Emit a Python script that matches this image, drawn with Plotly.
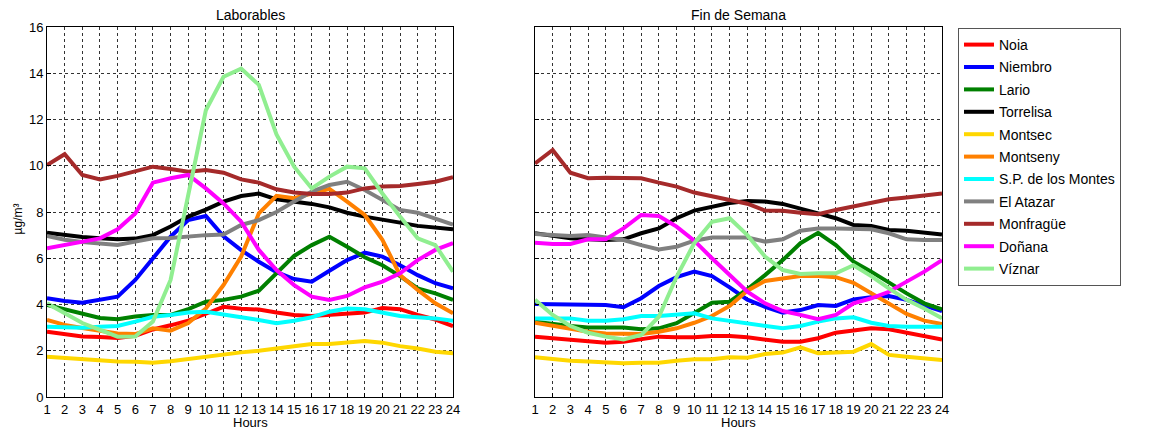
import plotly.graph_objects as go

hours = list(range(1, 25))
stations = ["Noia", "Niembro", "Lario", "Torrelisa", "Montsec", "Montseny",
            "S.P. de los Montes", "El Atazar", "Monfragüe", "Doñana", "Víznar"]
colors = ["#FF0000", "#0000FF", "#008000", "#000000", "#FFD700", "#FF8000",
          "#00FFFF", "#808080", "#A52A2A", "#FF00FF", "#90EE90"]

# Laborables (weekdays)
lab_noia = [2.82, 2.7, 2.62, 2.6, 2.55, 2.65, 2.92, 3.1, 3.3, 3.6, 3.9, 3.82, 3.78, 3.65, 3.55, 3.5, 3.55, 3.62, 3.65, 3.85, 3.8, 3.55, 3.35, 3.07]
lab_niembro = [4.27, 4.15, 4.08, 4.2, 4.34, 5.06, 6.0, 6.93, 7.65, 7.83, 6.95, 6.35, 5.85, 5.4, 5.1, 4.99, 5.46, 5.92, 6.24, 6.07, 5.7, 5.27, 4.92, 4.7]
lab_lario = [3.98, 3.78, 3.58, 3.42, 3.36, 3.48, 3.55, 3.55, 3.8, 4.12, 4.2, 4.34, 4.6, 5.35, 6.1, 6.57, 6.93, 6.5, 6.04, 5.7, 5.23, 4.7, 4.48, 4.2]
lab_torrelisa = [7.1, 7.0, 6.92, 6.86, 6.82, 6.85, 7.0, 7.37, 7.8, 8.1, 8.45, 8.69, 8.8, 8.55, 8.45, 8.35, 8.2, 7.97, 7.8, 7.65, 7.54, 7.4, 7.32, 7.25]
lab_montsec = [1.74, 1.68, 1.62, 1.57, 1.53, 1.52, 1.48, 1.55, 1.65, 1.74, 1.86, 1.93, 2.0, 2.1, 2.22, 2.29, 2.29, 2.35, 2.42, 2.35, 2.2, 2.1, 1.96, 1.89]
lab_montseny = [3.33, 3.12, 2.98, 2.85, 2.75, 2.72, 2.97, 2.87, 3.2, 3.83, 4.84, 6.07, 7.94, 8.7, 8.6, 8.8, 9.0, 8.45, 7.87, 6.8, 5.27, 4.63, 4.05, 3.62]
lab_spmontes = [3.04, 3.0, 3.0, 3.04, 3.07, 3.26, 3.47, 3.55, 3.65, 3.69, 3.55, 3.45, 3.33, 3.19, 3.3, 3.45, 3.69, 3.83, 3.79, 3.65, 3.5, 3.45, 3.4, 3.3]
lab_atazar = [6.96, 6.8, 6.7, 6.62, 6.57, 6.72, 6.86, 6.88, 6.95, 7.0, 7.03, 7.44, 7.65, 8.0, 8.45, 8.88, 9.17, 9.31, 8.95, 8.52, 8.09, 7.97, 7.7, 7.45]
lab_monfrague = [10.03, 10.5, 9.6, 9.41, 9.56, 9.74, 9.96, 9.86, 9.74, 9.82, 9.7, 9.41, 9.27, 8.98, 8.84, 8.78, 8.78, 8.84, 9.02, 9.1, 9.12, 9.21, 9.31, 9.5]
lab_donana = [6.43, 6.57, 6.72, 6.86, 7.25, 7.94, 9.27, 9.46, 9.6, 9.02, 8.37, 7.58, 6.36, 5.49, 4.84, 4.34, 4.2, 4.37, 4.74, 4.99, 5.35, 5.92, 6.36, 6.65]
lab_viznar = [4.05, 3.6, 3.2, 2.9, 2.61, 2.62, 3.26, 5.06, 8.65, 12.4, 13.85, 14.2, 13.5, 11.35, 9.96, 9.02, 9.53, 9.96, 9.89, 8.8, 7.8, 6.86, 6.57, 5.42]

# Fin de Semana (weekend)
fds_noia = [2.61, 2.54, 2.46, 2.39, 2.35, 2.39, 2.49, 2.61, 2.58, 2.58, 2.64, 2.64, 2.58, 2.49, 2.39, 2.39, 2.54, 2.78, 2.87, 2.97, 2.93, 2.78, 2.61, 2.49]
fds_niembro = [4.02, 4.02, 4.02, 3.98, 3.98, 3.88, 4.27, 4.8, 5.18, 5.42, 5.23, 4.74, 4.21, 3.9, 3.65, 3.76, 3.98, 3.94, 4.22, 4.31, 4.37, 4.2, 3.94, 3.72]
fds_lario = [3.26, 3.16, 3.07, 3.01, 3.01, 3.01, 2.93, 2.97, 3.19, 3.65, 4.08, 4.12, 4.66, 5.27, 5.92, 6.65, 7.1, 6.57, 5.85, 5.42, 4.94, 4.48, 4.05, 3.79]
fds_torrelisa = [7.08, 6.96, 6.86, 6.82, 6.79, 6.82, 7.08, 7.29, 7.73, 8.06, 8.23, 8.39, 8.48, 8.45, 8.35, 8.16, 7.94, 7.73, 7.44, 7.4, 7.22, 7.19, 7.12, 7.03]
fds_montsec = [1.72, 1.63, 1.57, 1.53, 1.48, 1.46, 1.48, 1.48, 1.57, 1.63, 1.63, 1.72, 1.7, 1.86, 1.92, 2.15, 1.89, 1.92, 1.96, 2.29, 1.82, 1.74, 1.67, 1.6]
fds_montseny = [3.21, 3.07, 2.97, 2.82, 2.75, 2.75, 2.72, 2.82, 2.97, 3.21, 3.5, 3.94, 4.6, 5.02, 5.13, 5.23, 5.23, 5.18, 4.94, 4.48, 4.05, 3.59, 3.3, 3.16]
fds_spmontes = [3.4, 3.4, 3.4, 3.3, 3.3, 3.36, 3.5, 3.5, 3.55, 3.62, 3.4, 3.3, 3.2, 3.11, 2.97, 3.07, 3.26, 3.4, 3.45, 3.21, 3.07, 3.04, 3.04, 3.04]
fds_atazar = [7.05, 7.0, 6.96, 7.0, 6.9, 6.79, 6.57, 6.38, 6.5, 6.76, 6.9, 6.9, 6.9, 6.72, 6.82, 7.19, 7.29, 7.29, 7.25, 7.25, 7.08, 6.82, 6.79, 6.79]
fds_monfrague = [10.1, 10.68, 9.7, 9.46, 9.48, 9.48, 9.46, 9.27, 9.1, 8.84, 8.69, 8.55, 8.36, 8.06, 8.05, 7.97, 7.9, 8.09, 8.23, 8.4, 8.55, 8.63, 8.73, 8.8]
fds_donana = [6.67, 6.62, 6.62, 6.82, 6.82, 7.29, 7.87, 7.83, 7.37, 6.76, 6.0, 5.27, 4.55, 4.05, 3.72, 3.55, 3.36, 3.55, 4.05, 4.27, 4.55, 4.99, 5.42, 5.92]
fds_viznar = [4.2, 3.55, 3.07, 2.78, 2.61, 2.49, 2.68, 3.47, 5.2, 6.65, 7.58, 7.73, 7.0, 6.07, 5.49, 5.32, 5.35, 5.35, 5.7, 5.23, 4.7, 4.2, 3.83, 3.4]

lab_series = [lab_noia, lab_niembro, lab_lario, lab_torrelisa, lab_montsec, lab_montseny,
              lab_spmontes, lab_atazar, lab_monfrague, lab_donana, lab_viznar]
fds_series = [fds_noia, fds_niembro, fds_lario, fds_torrelisa, fds_montsec, fds_montseny,
              fds_spmontes, fds_atazar, fds_monfrague, fds_donana, fds_viznar]

y_ticks = list(range(0, 17, 2))

fig = go.Figure()
for name, col, ys in zip(stations, colors, lab_series):
    fig.add_trace(go.Scatter(x=hours, y=ys, mode="lines", name=name,
                             line=dict(color=col, width=4), xaxis="x", yaxis="y",
                             legendgroup=name, showlegend=True))
for name, col, ys in zip(stations, colors, fds_series):
    fig.add_trace(go.Scatter(x=hours, y=ys, mode="lines", name=name,
                             line=dict(color=col, width=4), xaxis="x2", yaxis="y2",
                             legendgroup=name, showlegend=False))

# page has an 8px body margin: the figure is offset by 8px right and down
OFF = 8
W, H = 1155 - OFF, 430 - OFF
L, T = 47 - OFF, 27 - OFF
R, B = 213, 33
pw = W - L - R
d1 = (453 - 47) / pw
d2 = (535 - 47) / pw

axis_common = dict(showline=True, linecolor="black", linewidth=1, mirror=True,
                   showgrid=True, gridcolor="#333333", griddash="dot", gridwidth=1,
                   ticks="inside", ticklen=4, tickcolor="black", zeroline=False,
                   automargin=False,
                   tickfont=dict(family="Arial, Liberation Sans", size=13, color="black"))

fig.update_layout(
    width=W, height=H,
    margin=dict(l=L, r=R, t=T, b=B, autoexpand=False),
    plot_bgcolor="white", paper_bgcolor="white",
    font=dict(family="Arial, Liberation Sans", color="black"),
    xaxis=dict(domain=[0, d1], range=[1, 24], tickvals=hours, anchor="y", **axis_common),
    yaxis=dict(domain=[0, 1], range=[0, 16], tickvals=y_ticks, anchor="x", **axis_common),
    xaxis2=dict(domain=[d2, 1], range=[1, 24], tickvals=hours, anchor="y2", **axis_common),
    yaxis2=dict(domain=[0, 1], range=[0, 16], tickvals=y_ticks, anchor="x2",
                showticklabels=False, **axis_common),
    legend=dict(x=(958 - 47) / pw, y=(397 - 28) / (397 - 27), xanchor="left", yanchor="top",
                bordercolor="#555555", borderwidth=1, bgcolor="white",
                font=dict(family="Arial, Liberation Sans", size=14, color="black"),
                tracegroupgap=1.2),
    showlegend=True,
    annotations=[
        dict(text="Laborables", x=d1 / 2, y=1, xref="paper", yref="paper",
             xanchor="center", yanchor="bottom", yshift=2, showarrow=False,
             font=dict(size=14)),
        dict(text="Fin de Semana", x=(d2 + 1) / 2, y=1, xref="paper", yref="paper",
             xanchor="center", yanchor="bottom", yshift=2, showarrow=False,
             font=dict(size=14)),
        dict(text="Hours", x=d1 / 2, y=0, xref="paper", yref="paper",
             xanchor="center", yanchor="top", yshift=-16, showarrow=False,
             font=dict(size=13)),
        dict(text="Hours", x=(d2 + 1) / 2, y=0, xref="paper", yref="paper",
             xanchor="center", yanchor="top", yshift=-16, showarrow=False,
             font=dict(size=13)),
        dict(text="µg/m³", x=0, y=0.48, xref="paper", yref="paper",
             xanchor="right", yanchor="middle", xshift=-20, textangle=-90,
             showarrow=False, font=dict(size=12)),
    ],
)

fig.write_html("out.html")
